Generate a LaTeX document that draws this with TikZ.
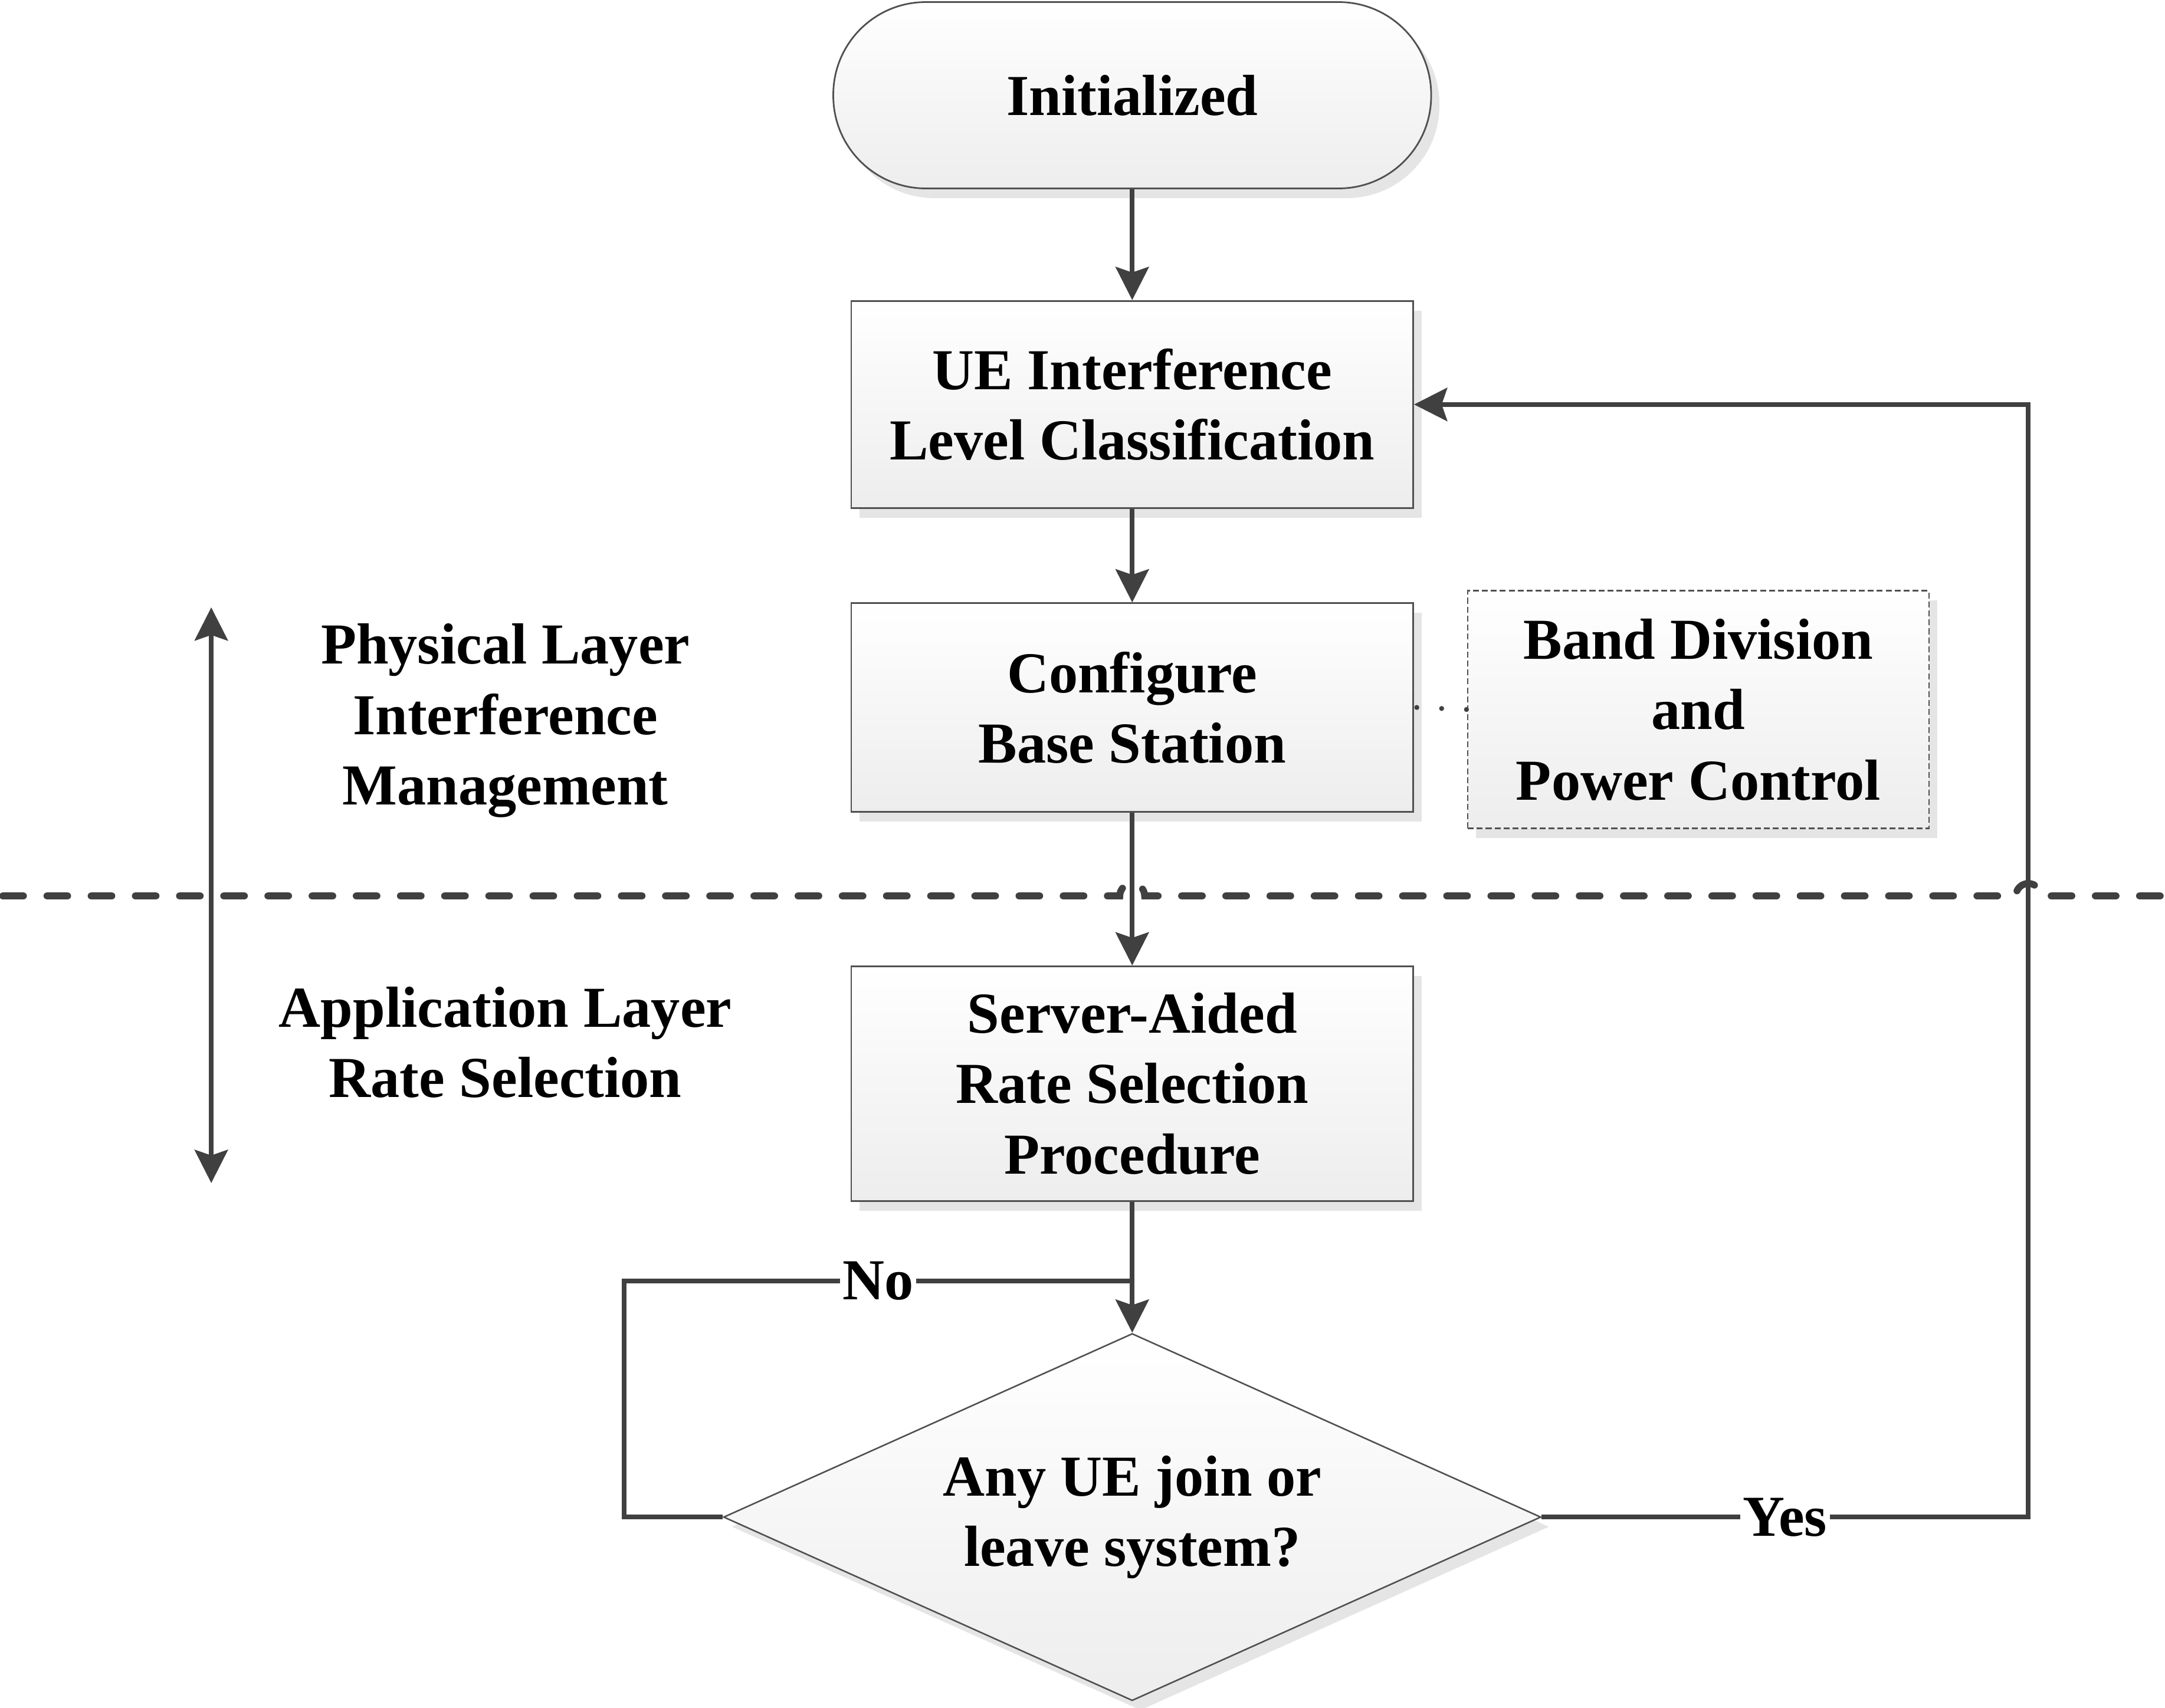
\documentclass[tikz,border=0pt]{standalone}
\usepackage{fontspec}
\setmainfont{Liberation Serif}
\usetikzlibrary{shapes.geometric,arrows.meta,shadows}
\definecolor{ln}{HTML}{404040}
\definecolor{bd}{HTML}{505050}
\begin{document}
\begin{tikzpicture}[x=1pt,y=-1pt,
  every node/.style={font=\fontsize{42}{51}\selectfont\bfseries, align=center},
  shade/.style={top color=white, bottom color=black!7, general shadow={fill=black!10, shadow xshift=6pt, shadow yshift=-7pt}},
  box/.style={shade, draw=bd, line width=1.2pt, minimum width=407pt, inner sep=0pt},
  term/.style={shade, draw=bd, line width=1.2pt, minimum width=433pt, minimum height=135pt, rounded corners=67pt, inner sep=0pt},
  dec/.style={shade, draw=bd, line width=1.1pt, shape=diamond, aspect=2.22, minimum width=592pt, minimum height=266pt, inner sep=0pt},
  dbox/.style={shade, draw=bd, dash pattern=on 4.3pt off 2.2pt, line width=1.1pt, minimum width=334pt, minimum height=172pt, inner sep=0pt},
  tip/.tip={Stealth[length=24pt, width=24pt, inset=4pt]},
  conn/.style={draw=ln, line width=3.4pt, -tip},
  plain/.style={draw=ln, line width=3.4pt},
  lbl/.style={fill=white, inner sep=2pt},
  txt/.style={}
]
\useasboundingbox (0,0) rectangle (1568,1237);

% nodes
\node[term] (init) at (820,69) {Initialized};
\node[box, minimum height=150pt] (ue) at (820,293) {UE Interference\\Level Classification};
\node[box, minimum height=151pt] (cfg) at (820,512.5) {Configure\\Base Station};
\node[dbox] (band) at (1230,514) {Band Division\\and\\Power Control};
\node[box, minimum height=170pt] (srv) at (820,785) {Server-Aided\\Rate Selection\\Procedure};
\node[dec] (dia) at (820,1099) {Any UE join or\\leave system?};

\node[txt] (phys) at (366,522) {Physical Layer\\Interference\\Management};
\node[txt] (app) at (366,755) {Application Layer\\Rate Selection};

% layer divider with hops
\draw[ln, line width=5pt, line cap=round, dash pattern=on 15pt off 17pt]
  (2,649) -- (811,649) arc[start angle=180, end angle=0, radius=9pt]
  -- (1460,649) arc[start angle=180, end angle=0, radius=9pt] -- (1568,649);

% coordinates
\coordinate (nojoin) at (820,928);
\coordinate (nocorner) at (452,928);
\coordinate (nolow) at (452,1099);
\coordinate (yeslow) at (1469,1099);
\coordinate (yestop) at (1469,293);
\coordinate (dtop) at (153,440);
\coordinate (dbot) at (153,857);

% connectors
\draw[conn] (init) -- (ue);
\draw[conn] (ue) -- (cfg);
\draw[conn] (cfg) -- (srv);
\draw[conn] (srv) -- (dia);
\draw[plain] (dia.west) -- (nolow) -- (nocorner) -- node[lbl] {No} (nojoin);
\draw[conn] (dia.east) -- node[lbl] {Yes} (yeslow) -- (yestop) -- (ue.east);
\draw[ln, line width=3.6pt, line cap=round, dash pattern=on 0pt off 18pt] ([xshift=2pt]cfg.east) -- (band.west);
\draw[ln, line width=3.4pt, tip-tip] (dtop) -- (dbot);
\end{tikzpicture}
\end{document}
